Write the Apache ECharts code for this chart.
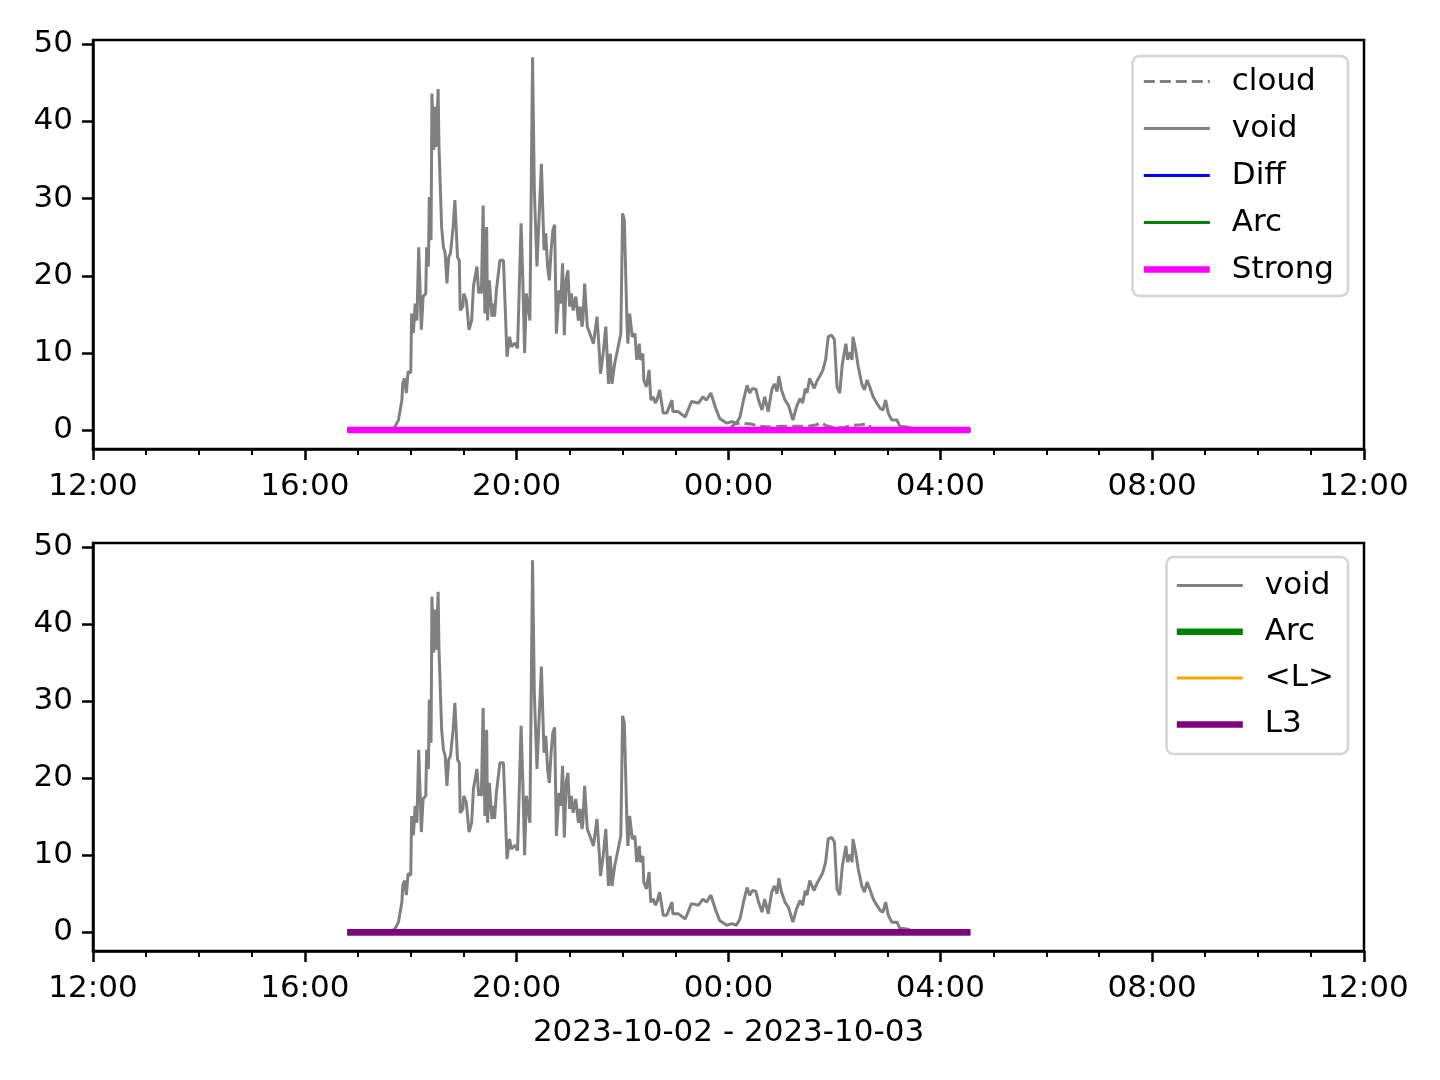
<!DOCTYPE html>
<html>
<head>
<meta charset="utf-8">
<script src="https://cdn.jsdelivr.net/npm/echarts@6/dist/echarts.min.js"></script>
<style>html,body{margin:0;padding:0;background:#fff}#c{width:1440px;height:1080px}</style>
</head>
<body>
<div id="c"></div>
<script>
// x values are minutes after 2023-10-02 12:00
const xTickMinutes = [0, 240, 480, 720, 960, 1200, 1440];
const yTicks = [0, 10, 20, 30, 40, 50];
const xAxisTitle = '2023-10-02 - 2023-10-03';

const voidData = [
[288,0],[336,0],[342,0.4],[346,1.3],[350,3.9],[351,6.1],[353,6.7],[355,4.8],[357,7.6],[360,7.4],
[361,15.1],[363,12.6],[365,16.4],[367,14.2],[369,23.7],[372,13],[374,17.3],[377,17.7],[378,23.7],[380,21.2],
[381,30.2],[383,24.6],[384,43.6],[386,36.3],[387,41.9],[389,36.7],[391,44.2],[392,36.7],[395,26.3],[397,23.7],
[399,22.9],[401,19],[403,22.4],[405,22.9],[408,26.3],[410,29.8],[413,22.4],[415,22],[416,15.5],[419,16],
[420,17.7],[423,16.8],[426,13],[429,14.2],[431,18.6],[435,21.2],[437,17.7],[438,18.6],[440,17.7],[442,29.1],
[444,15.1],[446,26.3],[447,14.2],[449,19.4],[452,14.7],[454,16.4],[455,14.7],[457,18.1],[461,22],[465,22],
[467,16],[469,9.5],[472,12.1],[474,10.8],[478,11.3],[481,10.6],[485,26.8],[487,19.4],[489,10],[491,17.7],
[493,16],[495,14.2],[498,48.3],[500,31.1],[503,21.2],[505,21.2],[508,34.5],[511,23.3],[513,25.5],[515,21.2],
[517,19.4],[519,23.3],[521,25.9],[523,26.6],[525,12.5],[528,18.1],[530,16.4],[532,21.6],[534,12.3],[536,19.4],
[538,20.7],[540,16],[542,17.7],[544,15.5],[547,17.3],[550,14.2],[552,16],[554,13.4],[555,14.2],[557,19],
[560,13.4],[563,12.5],[567,11.2],[571,14.7],[574,9.5],[575,7.3],[578,9.9],[581,13.4],[584,6],[586,9.9],
[588,6],[591,8.6],[595,10.8],[598,12.5],[600,28.1],[602,27.2],[605,13.8],[606,11.2],[608,15.1],[611,12.1],
[614,12.5],[616,9.1],[619,11.2],[620,9.1],[623,9.9],[624,6.5],[627,5.6],[630,7.8],[632,3.9],[635,4.3],
[637,3.5],[639,3.9],[642,5.2],[646,2.2],[650,2.2],[656,3.9],[657,2.4],[663,2.4],[671,1.7],[678,3.7],
[686,3.5],[691,4.3],[695,3.9],[700,4.8],[705,3],[710,1.5],[718,0.9],[724,1.1],[729,0.9],[733,1.7],
[737,3.9],[741,5.8],[744,4.8],[747,5.4],[751,5.3],[754,3.9],[758,2.6],[761,4.3],[765,2.4],[769,5.2],
[772,6],[775,5],[777,7],[780,5.2],[784,3.9],[788,3.2],[793,1.3],[797,3],[801,4.1],[804,3.5],
[807,5.4],[809,4.8],[812,6.7],[817,5.4],[820,6.3],[824,7.1],[827,7.8],[830,9.1],[833,12.1],[837,12.3],
[840,11.7],[843,5.6],[846,4.8],[849,8.6],[851,9.9],[853,11.2],[855,9.1],[858,10.1],[860,9.1],[861,12.1],
[864,10.4],[867,8.2],[871,6],[874,5.2],[877,6.5],[880,5.6],[884,4.3],[888,3.5],[892,2.8],[895,2.6],
[898,3.9],[901,2.2],[905,1.3],[911,1.3],[914,0.5],[922,0.4],[928,0.2],[937,0],[994,0]
];

const cloudData = [
[288,0],[720,0],[727,0.8],[735,0.9],[745,0.8],[755,0.5],[765,0.4],[780,0.5],[795,0.5],[810,0.5],
[820,0.7],[825,1.0],[830,0.6],[840,0.3],[850,0.3],[860,0.6],[870,0.7],[878,0.8],[882,0.2],[890,0],[994,0]
];

// Diff, Arc, Strong, <L>, L3 stay at zero over the whole record
const flatMinutes = [288, 994];
const flatValues = [0, 0];
const flatData = flatMinutes.map((m, i) => [m, flatValues[i]]);

const FONT = 'DejaVu Sans';
const FS = 31;
const GRAY = '#808080';

function fmtX(v) {
  const total = 12 * 60 + v;
  const h = Math.floor(total / 60) % 24;
  const m = total % 60;
  return String(h).padStart(2, '0') + ':' + String(m).padStart(2, '0');
}

function xAxisCfg(gridIndex, withName) {
  return {
    type: 'value', gridIndex, min: 0, max: 1440, interval: 240,
    position: 'bottom',
    axisLine: { show: true, onZero: false, lineStyle: { color: '#000', width: 2.5 } },
    axisTick: { show: true, length: 11, lineStyle: { color: '#000', width: 2.5 } },
    minorTick: { show: true, splitNumber: 4, length: 6, lineStyle: { color: '#000', width: 2 } },
    splitLine: { show: false },
    axisLabel: { fontFamily: FONT, fontSize: FS, color: '#000', margin: 22, formatter: fmtX,
      showMinLabel: true, showMaxLabel: true },
    name: withName ? xAxisTitle : '',
    nameLocation: 'middle', nameGap: 66,
    nameTextStyle: { fontFamily: FONT, fontSize: FS, color: '#000' }
  };
}

function yAxisCfg(gridIndex) {
  return {
    type: 'value', gridIndex, min: -2.45, max: 50.55,
    axisLine: { show: true, onZero: false, lineStyle: { color: '#000', width: 2.5 } },
    axisTick: { show: true, length: 11, customValues: yTicks, lineStyle: { color: '#000', width: 2.5 } },
    axisLabel: { fontFamily: FONT, fontSize: FS, color: '#000', margin: 20, customValues: yTicks, padding: [8, 0, 0, 0] },
    splitLine: { show: false }
  };
}

function line(name, data, axisIdx, color, width, dash) {
  return {
    name, type: 'line', data, xAxisIndex: axisIdx, yAxisIndex: axisIdx,
    symbol: 'none', showSymbol: false, animation: false,
    lineStyle: { color, width, type: dash || 'solid' },
    itemStyle: { color },
    emphasis: { disabled: true }
  };
}

const hiddenSymbol = { opacity: 0 };

const legendCommon = {
  orient: 'vertical',
  itemWidth: 66, itemHeight: 30, itemGap: 16.5,
  textStyle: { fontFamily: FONT, fontSize: FS, color: '#000', lineHeight: 30, padding: [0, 0, 0, 17] },
  backgroundColor: '#fff',
  borderColor: '#d4d4d4', borderWidth: 2.5, borderRadius: 7,
  selectedMode: false
};

const option = {
  animation: false,
  grid: [
    { left: 93, right: 76, top: 40, height: 409, show: true, borderColor: '#000', borderWidth: 2.5, backgroundColor: 'transparent' },
    { left: 93, right: 76, top: 543, height: 408, show: true, borderColor: '#000', borderWidth: 2.5, backgroundColor: 'transparent' }
  ],
  xAxis: [xAxisCfg(0, false), xAxisCfg(1, true)],
  yAxis: [yAxisCfg(0), yAxisCfg(1)],
  legend: [
    Object.assign({}, legendCommon, {
      right: 92, top: 56, padding: [10, 14, 11, 8], itemGap: 16,
      data: [
        { name: 'cloud', itemStyle: hiddenSymbol, lineStyle: { color: GRAY, width: 3, type: [11, 5] } },
        { name: 'void', itemStyle: hiddenSymbol, lineStyle: { color: GRAY, width: 3 } },
        { name: 'Diff', itemStyle: hiddenSymbol, lineStyle: { color: '#0000ff', width: 3 } },
        { name: 'Arc', itemStyle: hiddenSymbol, lineStyle: { color: '#008000', width: 3 } },
        { name: 'Strong', itemStyle: hiddenSymbol, lineStyle: { color: '#ff00ff', width: 6.5 } }
      ]
    }),
    Object.assign({}, legendCommon, {
      right: 92, top: 557, padding: [13, 14, 14, 7], itemGap: 15.3,
      data: [
        { name: 'void', itemStyle: hiddenSymbol, lineStyle: { color: GRAY, width: 3 } },
        { name: 'Arc', itemStyle: hiddenSymbol, lineStyle: { color: '#008000', width: 6.5 } },
        { name: '<L>', itemStyle: hiddenSymbol, lineStyle: { color: '#ffa500', width: 3 } },
        { name: 'L3', itemStyle: hiddenSymbol, lineStyle: { color: '#800080', width: 6.5 } }
      ]
    })
  ],
  series: [
    line('cloud', cloudData, 0, GRAY, 3, [11, 5]),
    line('void', voidData, 0, GRAY, 3),
    line('Diff', flatData, 0, '#0000ff', 3),
    line('Arc', flatData, 0, '#008000', 3),
    line('Strong', flatData, 0, '#ff00ff', 6.5),
    line('void', voidData, 1, GRAY, 3),
    line('Arc', flatData, 1, '#008000', 6.5),
    line('<L>', flatData, 1, '#ffa500', 3),
    line('L3', flatData, 1, '#800080', 6.5)
  ]
};

const chart = echarts.init(document.getElementById('c'), null, { renderer: 'canvas', width: 1440, height: 1080 });
chart.setOption(option);
</script>
</body>
</html>
